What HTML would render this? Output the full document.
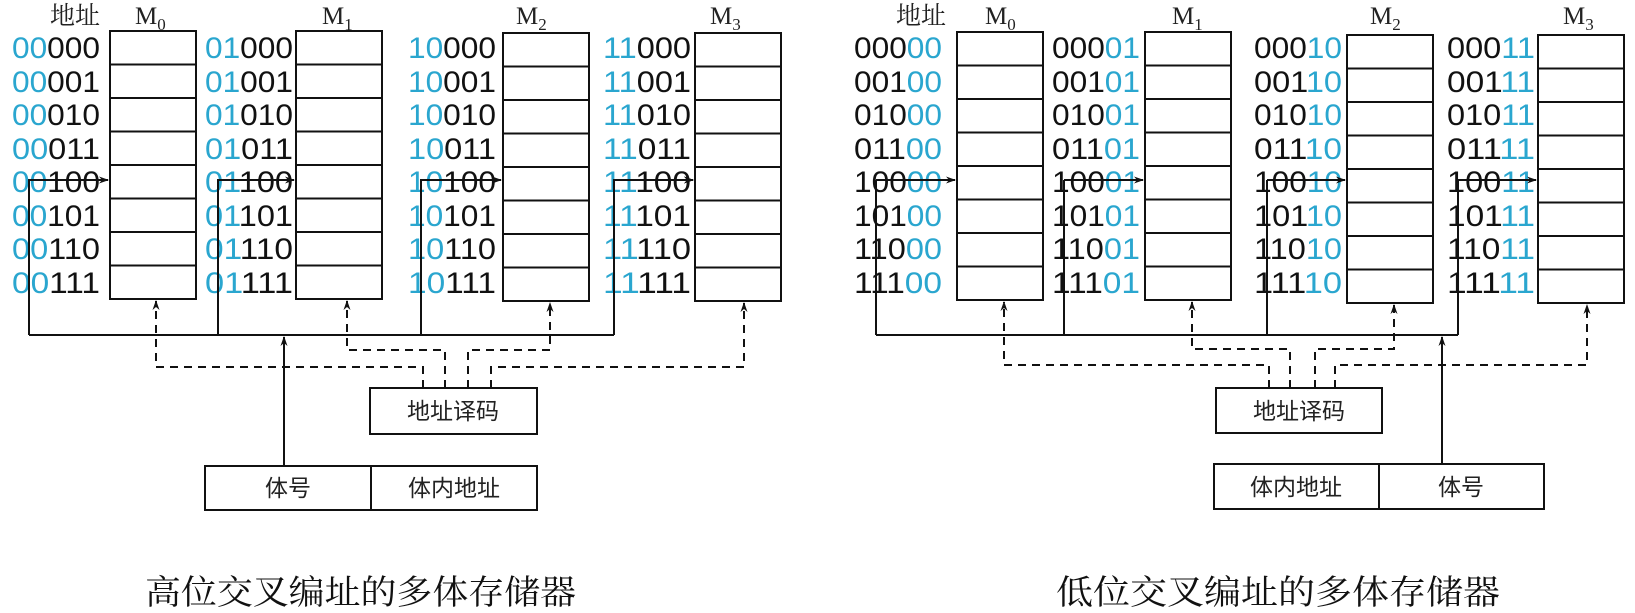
<!DOCTYPE html>
<html><head><meta charset="utf-8"><style>
html,body{margin:0;padding:0;background:#fff;}
svg{display:block;}
.a{font-family:"Liberation Sans","Noto Sans CJK SC",sans-serif;font-size:30px;fill:#111;}
.b{fill:#2aa6cf;}
.l{font-family:"Liberation Serif","Noto Serif CJK SC",serif;font-size:25px;fill:#222;}
.c{font-family:"Liberation Sans","Noto Sans CJK SC",sans-serif;font-size:23px;fill:#222;}
.cap{font-family:"Liberation Serif","Noto Serif CJK SC",serif;font-size:34px;fill:#111;}
</style></head><body>
<svg width="1635" height="613" viewBox="0 0 1635 613" xmlns="http://www.w3.org/2000/svg">
<defs>
<marker id="ar" markerWidth="10" markerHeight="10" refX="9" refY="5" orient="auto" markerUnits="userSpaceOnUse"><path d="M0,1.5 L10,5 L0,8.5 L3,5 Z" fill="#111"/></marker>
<g id="box"><rect x="0" y="0" width="86" height="268" fill="#fff" stroke="#111" stroke-width="2"/>
<path d="M0 33.5H86M0 67H86M0 100.5H86M0 134H86M0 167.5H86M0 201H86M0 234.5H86" stroke="#111" stroke-width="2"/></g>
</defs>

<!-- LEFT -->
<text class="l" x="50" y="24">地址</text>
<text class="l" x="135" y="24">M<tspan font-size="17" dy="6">0</tspan></text>
<text class="l" x="322" y="24">M<tspan font-size="17" dy="6">1</tspan></text>
<text class="l" x="516" y="24">M<tspan font-size="17" dy="6">2</tspan></text>
<text class="l" x="710" y="24">M<tspan font-size="17" dy="6">3</tspan></text>
<use href="#box" x="110" y="31"/><use href="#box" x="296" y="31"/><use href="#box" x="503" y="33"/><use href="#box" x="695" y="33"/>

<g class="a">
<text x="12" y="58" textLength="88" lengthAdjust="spacingAndGlyphs"><tspan class="b">00</tspan>000</text>
<text x="12" y="92" textLength="88" lengthAdjust="spacingAndGlyphs"><tspan class="b">00</tspan>001</text>
<text x="12" y="125" textLength="88" lengthAdjust="spacingAndGlyphs"><tspan class="b">00</tspan>010</text>
<text x="12" y="159" textLength="88" lengthAdjust="spacingAndGlyphs"><tspan class="b">00</tspan>011</text>
<text x="12" y="192" textLength="88" lengthAdjust="spacingAndGlyphs"><tspan class="b">00</tspan>100</text>
<text x="12" y="226" textLength="88" lengthAdjust="spacingAndGlyphs"><tspan class="b">00</tspan>101</text>
<text x="12" y="259" textLength="88" lengthAdjust="spacingAndGlyphs"><tspan class="b">00</tspan>110</text>
<text x="12" y="293" textLength="88" lengthAdjust="spacingAndGlyphs"><tspan class="b">00</tspan>111</text>

<text x="205" y="58" textLength="88" lengthAdjust="spacingAndGlyphs"><tspan class="b">01</tspan>000</text>
<text x="205" y="92" textLength="88" lengthAdjust="spacingAndGlyphs"><tspan class="b">01</tspan>001</text>
<text x="205" y="125" textLength="88" lengthAdjust="spacingAndGlyphs"><tspan class="b">01</tspan>010</text>
<text x="205" y="159" textLength="88" lengthAdjust="spacingAndGlyphs"><tspan class="b">01</tspan>011</text>
<text x="205" y="192" textLength="88" lengthAdjust="spacingAndGlyphs"><tspan class="b">01</tspan>100</text>
<text x="205" y="226" textLength="88" lengthAdjust="spacingAndGlyphs"><tspan class="b">01</tspan>101</text>
<text x="205" y="259" textLength="88" lengthAdjust="spacingAndGlyphs"><tspan class="b">01</tspan>110</text>
<text x="205" y="293" textLength="88" lengthAdjust="spacingAndGlyphs"><tspan class="b">01</tspan>111</text>

<text x="408" y="58" textLength="88" lengthAdjust="spacingAndGlyphs"><tspan class="b">10</tspan>000</text>
<text x="408" y="92" textLength="88" lengthAdjust="spacingAndGlyphs"><tspan class="b">10</tspan>001</text>
<text x="408" y="125" textLength="88" lengthAdjust="spacingAndGlyphs"><tspan class="b">10</tspan>010</text>
<text x="408" y="159" textLength="88" lengthAdjust="spacingAndGlyphs"><tspan class="b">10</tspan>011</text>
<text x="408" y="192" textLength="88" lengthAdjust="spacingAndGlyphs"><tspan class="b">10</tspan>100</text>
<text x="408" y="226" textLength="88" lengthAdjust="spacingAndGlyphs"><tspan class="b">10</tspan>101</text>
<text x="408" y="259" textLength="88" lengthAdjust="spacingAndGlyphs"><tspan class="b">10</tspan>110</text>
<text x="408" y="293" textLength="88" lengthAdjust="spacingAndGlyphs"><tspan class="b">10</tspan>111</text>

<text x="603" y="58" textLength="88" lengthAdjust="spacingAndGlyphs"><tspan class="b">11</tspan>000</text>
<text x="603" y="92" textLength="88" lengthAdjust="spacingAndGlyphs"><tspan class="b">11</tspan>001</text>
<text x="603" y="125" textLength="88" lengthAdjust="spacingAndGlyphs"><tspan class="b">11</tspan>010</text>
<text x="603" y="159" textLength="88" lengthAdjust="spacingAndGlyphs"><tspan class="b">11</tspan>011</text>
<text x="603" y="192" textLength="88" lengthAdjust="spacingAndGlyphs"><tspan class="b">11</tspan>100</text>
<text x="603" y="226" textLength="88" lengthAdjust="spacingAndGlyphs"><tspan class="b">11</tspan>101</text>
<text x="603" y="259" textLength="88" lengthAdjust="spacingAndGlyphs"><tspan class="b">11</tspan>110</text>
<text x="603" y="293" textLength="88" lengthAdjust="spacingAndGlyphs"><tspan class="b">11</tspan>111</text>
</g>

<g stroke="#111" stroke-width="2" fill="none">
<path d="M29 335H614"/>
<path d="M29 335V180H108M218 335V180H294M421 335V180H501M614 335V180H693" marker-end="url(#ar)"/>
<path d="M29 180H108" marker-end="url(#ar)"/><path d="M218 180H294" marker-end="url(#ar)"/><path d="M421 180H501" marker-end="url(#ar)"/><path d="M614 180H693" marker-end="url(#ar)"/>
<path d="M284 466V337" marker-end="url(#ar)"/>
<g stroke-dasharray="8,6">
<path d="M423 388V367H156V301" marker-end="url(#ar)"/>
<path d="M445 388V350H347V301" marker-end="url(#ar)"/>
<path d="M468 388V350H550V303" marker-end="url(#ar)"/>
<path d="M491 388V367H744V303" marker-end="url(#ar)"/>
</g>
<rect x="370" y="388" width="167" height="46"/>
<rect x="205" y="466" width="332" height="44"/><path d="M371 466V510"/>
</g>
<text class="c" x="453" y="419" text-anchor="middle">地址译码</text>
<text class="c" x="288" y="496" text-anchor="middle">体号</text>
<text class="c" x="454" y="496" text-anchor="middle">体内地址</text>
<text class="cap" x="145" y="604" textLength="431" lengthAdjust="spacingAndGlyphs">高位交叉编址的多体存储器</text>

<!-- RIGHT -->
<text class="l" x="896" y="24">地址</text>
<text class="l" x="985" y="24">M<tspan font-size="17" dy="6">0</tspan></text>
<text class="l" x="1172" y="24">M<tspan font-size="17" dy="6">1</tspan></text>
<text class="l" x="1370" y="24">M<tspan font-size="17" dy="6">2</tspan></text>
<text class="l" x="1563" y="24">M<tspan font-size="17" dy="6">3</tspan></text>
<use href="#box" x="957" y="32"/><use href="#box" x="1145" y="32"/><use href="#box" x="1347" y="35"/><use href="#box" x="1538" y="35"/>

<g class="a">
<text x="854" y="58" textLength="88" lengthAdjust="spacingAndGlyphs">000<tspan class="b">00</tspan></text>
<text x="854" y="92" textLength="88" lengthAdjust="spacingAndGlyphs">001<tspan class="b">00</tspan></text>
<text x="854" y="125" textLength="88" lengthAdjust="spacingAndGlyphs">010<tspan class="b">00</tspan></text>
<text x="854" y="159" textLength="88" lengthAdjust="spacingAndGlyphs">011<tspan class="b">00</tspan></text>
<text x="854" y="192" textLength="88" lengthAdjust="spacingAndGlyphs">100<tspan class="b">00</tspan></text>
<text x="854" y="226" textLength="88" lengthAdjust="spacingAndGlyphs">101<tspan class="b">00</tspan></text>
<text x="854" y="259" textLength="88" lengthAdjust="spacingAndGlyphs">110<tspan class="b">00</tspan></text>
<text x="854" y="293" textLength="88" lengthAdjust="spacingAndGlyphs">111<tspan class="b">00</tspan></text>

<text x="1052" y="58" textLength="88" lengthAdjust="spacingAndGlyphs">000<tspan class="b">01</tspan></text>
<text x="1052" y="92" textLength="88" lengthAdjust="spacingAndGlyphs">001<tspan class="b">01</tspan></text>
<text x="1052" y="125" textLength="88" lengthAdjust="spacingAndGlyphs">010<tspan class="b">01</tspan></text>
<text x="1052" y="159" textLength="88" lengthAdjust="spacingAndGlyphs">011<tspan class="b">01</tspan></text>
<text x="1052" y="192" textLength="88" lengthAdjust="spacingAndGlyphs">100<tspan class="b">01</tspan></text>
<text x="1052" y="226" textLength="88" lengthAdjust="spacingAndGlyphs">101<tspan class="b">01</tspan></text>
<text x="1052" y="259" textLength="88" lengthAdjust="spacingAndGlyphs">110<tspan class="b">01</tspan></text>
<text x="1052" y="293" textLength="88" lengthAdjust="spacingAndGlyphs">111<tspan class="b">01</tspan></text>

<text x="1254" y="58" textLength="88" lengthAdjust="spacingAndGlyphs">000<tspan class="b">10</tspan></text>
<text x="1254" y="92" textLength="88" lengthAdjust="spacingAndGlyphs">001<tspan class="b">10</tspan></text>
<text x="1254" y="125" textLength="88" lengthAdjust="spacingAndGlyphs">010<tspan class="b">10</tspan></text>
<text x="1254" y="159" textLength="88" lengthAdjust="spacingAndGlyphs">011<tspan class="b">10</tspan></text>
<text x="1254" y="192" textLength="88" lengthAdjust="spacingAndGlyphs">100<tspan class="b">10</tspan></text>
<text x="1254" y="226" textLength="88" lengthAdjust="spacingAndGlyphs">101<tspan class="b">10</tspan></text>
<text x="1254" y="259" textLength="88" lengthAdjust="spacingAndGlyphs">110<tspan class="b">10</tspan></text>
<text x="1254" y="293" textLength="88" lengthAdjust="spacingAndGlyphs">111<tspan class="b">10</tspan></text>

<text x="1447" y="58" textLength="88" lengthAdjust="spacingAndGlyphs">000<tspan class="b">11</tspan></text>
<text x="1447" y="92" textLength="88" lengthAdjust="spacingAndGlyphs">001<tspan class="b">11</tspan></text>
<text x="1447" y="125" textLength="88" lengthAdjust="spacingAndGlyphs">010<tspan class="b">11</tspan></text>
<text x="1447" y="159" textLength="88" lengthAdjust="spacingAndGlyphs">011<tspan class="b">11</tspan></text>
<text x="1447" y="192" textLength="88" lengthAdjust="spacingAndGlyphs">100<tspan class="b">11</tspan></text>
<text x="1447" y="226" textLength="88" lengthAdjust="spacingAndGlyphs">101<tspan class="b">11</tspan></text>
<text x="1447" y="259" textLength="88" lengthAdjust="spacingAndGlyphs">110<tspan class="b">11</tspan></text>
<text x="1447" y="293" textLength="88" lengthAdjust="spacingAndGlyphs">111<tspan class="b">11</tspan></text>
</g>

<g stroke="#111" stroke-width="2" fill="none">
<path d="M876 335H1458"/>
<path d="M876 335V180M1064 335V180M1267 335V180M1458 335V180"/>
<path d="M876 180H955" marker-end="url(#ar)"/><path d="M1064 180H1143" marker-end="url(#ar)"/><path d="M1267 180H1345" marker-end="url(#ar)"/><path d="M1458 180H1536" marker-end="url(#ar)"/>
<path d="M1442 464V337" marker-end="url(#ar)"/>
<g stroke-dasharray="8,6">
<path d="M1269 388V365H1004V302" marker-end="url(#ar)"/>
<path d="M1290 388V349H1192V302" marker-end="url(#ar)"/>
<path d="M1315 388V349H1394V305" marker-end="url(#ar)"/>
<path d="M1335 388V365H1587V305" marker-end="url(#ar)"/>
</g>
<rect x="1216" y="388" width="166" height="45"/>
<rect x="1214" y="464" width="330" height="45"/><path d="M1379 464V509"/>
</g>
<text class="c" x="1299" y="419" text-anchor="middle">地址译码</text>
<text class="c" x="1296" y="495" text-anchor="middle">体内地址</text>
<text class="c" x="1461" y="495" text-anchor="middle">体号</text>
<text class="cap" x="1056" y="604" textLength="444" lengthAdjust="spacingAndGlyphs">低位交叉编址的多体存储器</text>
</svg>
</body></html>
